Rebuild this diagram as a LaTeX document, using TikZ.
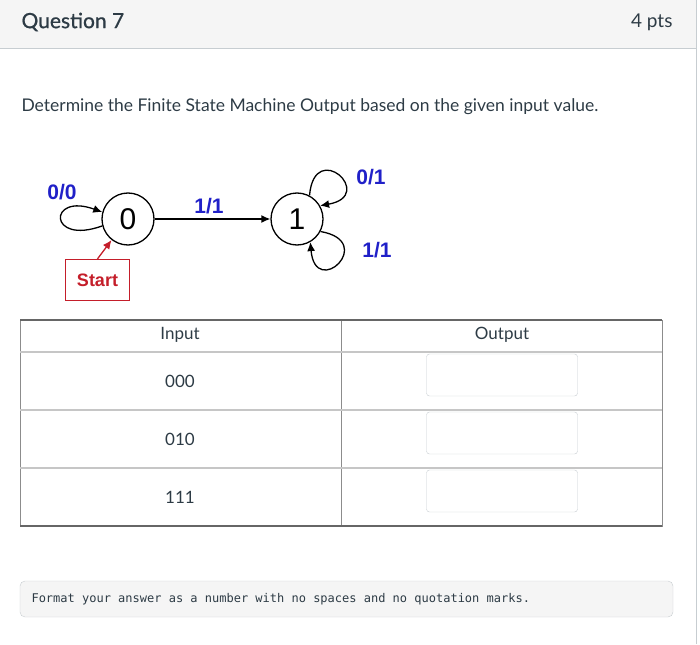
\documentclass[tikz,border=0pt]{standalone}
\usepackage{fontspec}
\setmainfont{Lato}
\setmonofont{DejaVu Sans Mono}
\newfontfamily\fsmfont{Liberation Sans}
\newfontfamily\headfont[FakeBold=0.8]{Lato}
\usetikzlibrary{arrows.meta}
\definecolor{pagegray}{HTML}{F5F5F5}
\definecolor{linegray}{HTML}{C7CDD1}
\definecolor{inkdark}{HTML}{2D3B45}
\definecolor{fsmblue}{HTML}{2020C8}
\definecolor{startred}{HTML}{C41E2A}
\begin{document}
\begin{tikzpicture}[x=1pt, y=-1pt,
    state/.style={draw, circle, line width=1.3pt, minimum size=52pt, inner sep=0pt, font=\fsmfont\fontsize{30}{30}\selectfont},
    trans/.style={font=\fsmfont\bfseries\fontsize{21}{21}\selectfont, text=fsmblue},
    cell/.style={font=\fontsize{17}{17}\selectfont, text=inkdark},
    answer/.style={draw=linegray, rounded corners=3pt, minimum width=151pt, minimum height=42pt},
    tip/.style={line width=1.3pt, -{Latex[length=9pt, width=8pt]}}]
    \useasboundingbox (0,0) rectangle (700,644);
    % header
    \fill[pagegray] (0,0) rectangle (696,48);
    \draw[linegray] (0,48) -- (696,48);
    \draw[linegray] (696,0) -- (696,644);
    \node[anchor=west, text=inkdark, font=\headfont\fontsize{21}{21}\selectfont] (title) at (18,22) {Question 7};
    \node[anchor=east, text=inkdark, font=\fontsize{19}{19}\selectfont] (pts) at (676,22) {4 pts};
    \node[anchor=west, text=inkdark, font=\fontsize{17.5}{17.5}\selectfont] (ask) at (18,107) {Determine the Finite State Machine Output based on the given input value.};

    % state machine
    \node[state] (n0) at (128,219) {0};
    \node[state] (n1) at (297,219) {1};
    \node[draw=startred, line width=1.2pt, text=startred, font=\fsmfont\bfseries\fontsize{18}{18}\selectfont, minimum width=64pt, minimum height=41pt] (start) at (97.5,280) {Start};
    \draw[tip] (n0) -- (n1) node[trans, pos=0.47, above=1pt] {1/1};
    \draw[tip] (n0.195) to[out=200, in=160, distance=58pt] (n0.165);
    \node[trans] (l00) at (62,192) {0/0};
    \draw[tip] (n1.62) to[out=85, in=10, distance=58pt] (n1.30);
    \node[trans] (l01) at (371,177) {0/1};
    \draw[tip] (n1.-28) to[out=-10, in=-85, distance=58pt] (n1.-60);
    \node[trans] (l11) at (377,250) {1/1};
    \draw[tip, startred] (start.north) -- (n0.232);

    % table
    \draw[gray!90, line width=0.8pt] (20,320) rectangle (662,526);
    \draw[gray!90, line width=0.8pt] (341,320) -- (341,526);
    \foreach \y in {352,410,468}
        \draw[gray!45, line width=1.4pt] (20,\y) -- (662,\y);
    \draw[gray!80!black, line width=2pt] (20,320) -- (662,320);
    \draw[gray!80!black, line width=2pt] (20,526) -- (662,526);
    \node[cell] (hin) at (180,335) {Input};
    \node[cell] (hout) at (502,335) {Output};
    \foreach \val [count=\i] in {000,010,111} {
        \node[cell] (in\i) at (180,323+58*\i) {\val};
        \node[answer] (ans\i) at (502,317+58*\i) {};
    }

    % note
    \draw[linegray, fill=pagegray, rounded corners=5pt] (20,581) rectangle (673,617);
    \node[anchor=west, text=inkdark, font=\ttfamily\fontsize{12}{12}\selectfont] (note) at (28,599) {Format your answer as a number with no spaces and no quotation marks.};
\end{tikzpicture}
\end{document}
